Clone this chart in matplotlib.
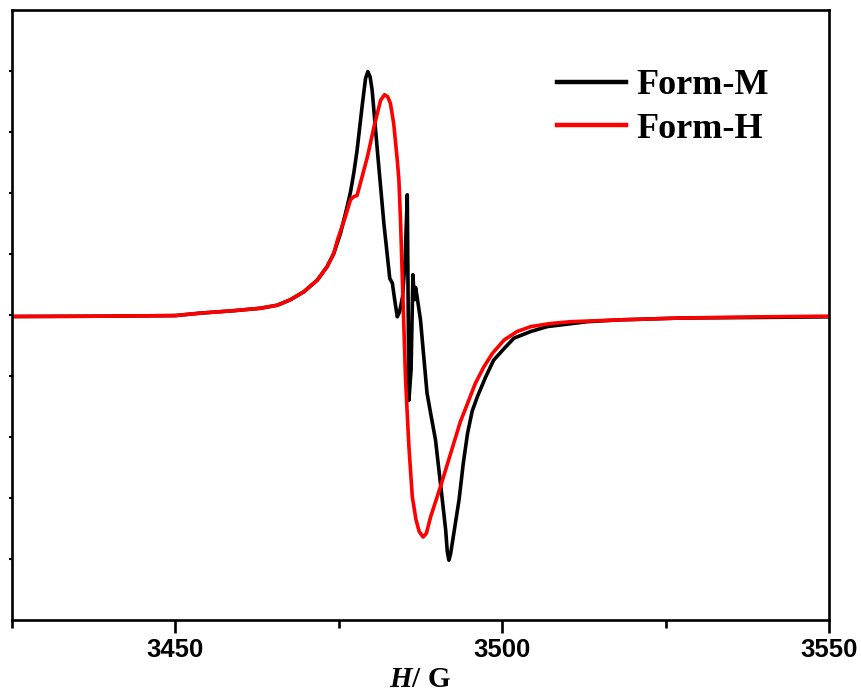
import matplotlib.pyplot as plt
import numpy as np

plt.rcParams['mathtext.fontset'] = 'custom'
plt.rcParams['mathtext.rm'] = 'Liberation Serif:bold'
plt.rcParams['mathtext.it'] = 'Liberation Serif:italic:bold'
plt.rcParams['mathtext.bf'] = 'Liberation Serif:bold'
plt.rcParams['mathtext.bfit'] = 'Liberation Serif:italic:bold'

# EPR spectra, field in gauss, intensity in arbitrary units
field_m = [3425.0, 3438.5, 3450.0, 3453.8, 3458.9, 3463.0, 3465.6, 3467.6, 3469.65,
           3471.7, 3473.2, 3474.24, 3475.27, 3476.29, 3476.8, 3477.3, 3477.8, 3478.6,
           3479.1, 3479.45, 3479.8, 3480.1, 3480.9, 3481.9, 3482.8, 3483.2, 3483.55,
           3483.95, 3484.3, 3484.76, 3485.15, 3485.48, 3485.73, 3486.06, 3486.34,
           3486.57, 3486.75, 3486.98, 3487.5, 3488.5, 3489.05, 3489.8, 3490.84,
           3491.35, 3491.6, 3491.85, 3492.1, 3492.6, 3493.4, 3494.05, 3494.7, 3495.4,
           3496.2, 3497.5, 3498.7, 3500.3, 3501.8, 3504.4, 3506.9, 3510.0, 3513.0,
           3518.0, 3527.3, 3540.0, 3550.0]
signal_m = [-0.025, -0.02, -0.01, 0.03, 0.07, 0.11, 0.16, 0.25, 0.38,
            0.57, 0.79, 1.01, 1.34, 1.78, 2.02, 2.33, 2.70, 3.45,
            3.88, 3.99, 3.90, 3.69, 2.70, 1.50, 0.60, 0.52, 0.25,
            -0.03, 0.05, 0.30, 0.90, 1.97, -1.40, -0.90, 0.66,
            0.25, 0.45, 0.30, -0.08, -1.28, -1.61, -2.05, -3.03,
            -3.52, -3.88, -4.02, -3.92, -3.58, -3.03, -2.43, -1.94, -1.58,
            -1.34, -1.01, -0.74, -0.55, -0.38, -0.27, -0.19, -0.15, -0.11,
            -0.08, -0.05, -0.04, -0.03]

field_h = [3425.0, 3438.5, 3450.0, 3453.8, 3458.9, 3463.0, 3465.6, 3467.6, 3469.65,
           3471.7, 3473.2, 3474.24, 3474.8, 3476.0, 3476.8, 3477.3, 3477.8, 3478.3,
           3479.4, 3480.4, 3481.4, 3482.0, 3482.47, 3482.9, 3483.4, 3483.95, 3484.2,
           3484.46, 3484.87, 3485.22, 3485.73, 3486.25, 3486.8, 3487.3, 3487.9,
           3488.4, 3489.05, 3490.6, 3491.6, 3492.6, 3493.6, 3494.7, 3495.9, 3497.2,
           3498.5, 3500.3, 3502.3, 3504.4, 3507.4, 3510.5, 3518.1, 3527.3, 3540.0,
           3550.0]
signal_h = [-0.025, -0.02, -0.01, 0.03, 0.07, 0.11, 0.16, 0.25, 0.38,
            0.57, 0.79, 1.01, 1.23, 1.61, 1.89, 1.94, 1.96, 2.16,
            2.60, 3.09, 3.52, 3.61, 3.58, 3.47, 3.14, 2.54, 2.21,
            1.50, 0.10, -1.07, -2.16, -2.98, -3.35, -3.55, -3.64,
            -3.58, -3.31, -2.80, -2.45, -2.10, -1.75, -1.45, -1.12, -0.85,
            -0.63, -0.41, -0.27, -0.19, -0.14, -0.11, -0.08, -0.05, -0.03,
            -0.02]

fig = plt.figure(figsize=(8.62, 6.97), dpi=100)
ax = fig.add_axes([0.0139, 0.1105, 0.9478, 0.8752])

ax.plot(field_m, signal_m, color='black', lw=2.6, label='Form-M')
ax.plot(field_h, signal_h, color='red', lw=2.6, label='Form-H')

ax.set_xlim(3425, 3550)
ax.set_ylim(-5, 5)

for s in ax.spines.values():
    s.set_linewidth(1.9)

ax.set_xticks([3450, 3500, 3550])
ax.set_xticks([3425, 3475, 3525], minor=True)
ax.set_yticks(np.arange(-4, 5))
ax.set_yticklabels([])
ax.tick_params(axis='x', which='major', direction='out', length=9, width=1.9, pad=4)
ax.tick_params(axis='x', which='minor', direction='out', length=6, width=1.9)
ax.tick_params(axis='y', which='major', direction='out', length=2, width=1.5)
for lbl in ax.get_xticklabels():
    lbl.set_fontfamily('Liberation Sans')
    lbl.set_fontweight('bold')
    lbl.set_fontsize(18.5)

ax.set_xlabel(r'$\mathbfit{H}$/ G', fontfamily='Liberation Serif', fontweight='bold',
              fontsize=21, labelpad=3)

leg = ax.legend(loc='upper left', bbox_to_anchor=(0.667, 0.903), frameon=False,
                borderpad=0, borderaxespad=0,
                prop={'family': 'Liberation Serif', 'weight': 'bold', 'size': 26},
                handlelength=1.9, handletextpad=0.3, labelspacing=0.28)
for line in leg.get_lines():
    line.set_linewidth(3.2)

fig.savefig('out.png', dpi=100)
